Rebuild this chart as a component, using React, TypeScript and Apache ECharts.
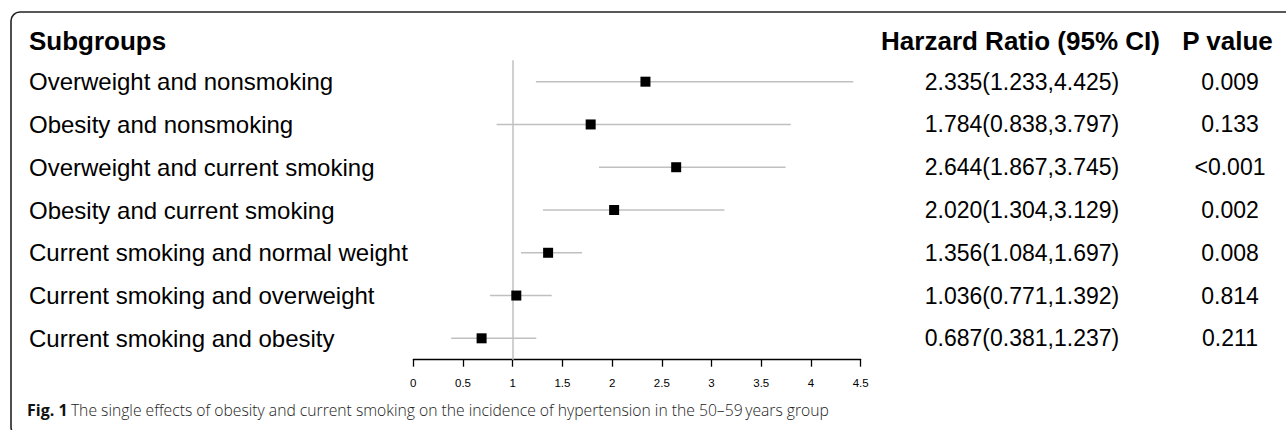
import React, { useEffect, useRef } from "react";
import * as echarts from "echarts";

const subgroups = [
  "Overweight and nonsmoking",
  "Obesity and nonsmoking",
  "Overweight and current smoking",
  "Obesity and current smoking",
  "Current smoking and normal weight",
  "Current smoking and overweight",
  "Current smoking and obesity",
];
const hr = [2.335, 1.784, 2.644, 2.02, 1.356, 1.036, 0.687];
const lower = [1.233, 0.838, 1.867, 1.304, 1.084, 0.771, 0.381];
const upper = [4.425, 3.797, 3.745, 3.129, 1.697, 1.392, 1.237];
const pValues = ["0.009", "0.133", "<0.001", "0.002", "0.008", "0.814", "0.211"];
const xTicks = [0, 0.5, 1, 1.5, 2, 2.5, 3, 3.5, 4, 4.5];

const hrText = hr.map(
  (v, i) => `${v.toFixed(3)}(${lower[i].toFixed(3)},${upper[i].toFixed(3)})`
);

const FONT = "Liberation Sans, Arial, sans-serif";

export default function App() {
  const ref = useRef<HTMLDivElement>(null);
  useEffect(() => {
    if (!ref.current) return;
    const chart = echarts.init(ref.current, null, { renderer: "svg" });
    const seriesData = hr.map((v, i) => [v, i, lower[i], upper[i]]);
    const option: any = {
      animation: false,
      backgroundColor: "#ffffff",
      grid: { left: 413.3, right: 425.3, top: 60.3, bottom: 70.3, containLabel: false },
      xAxis: {
        type: "value",
        min: 0,
        max: 4.5,
        interval: 0.5,
        splitLine: { show: false },
        axisLine: { show: true, lineStyle: { color: "#000", width: 1.3 } },
        axisTick: { show: true, length: 7, lineStyle: { color: "#000", width: 1.3 } },
        axisLabel: {
          show: true,
          fontSize: 11.5,
          color: "#000",
          fontFamily: FONT,
          margin: 17,
          showMinLabel: true,
          showMaxLabel: true,
          formatter: (v: number) => (xTicks.includes(v) ? String(v) : ""),
        },
      },
      yAxis: [
        {
          type: "category",
          data: subgroups,
          inverse: true,
          position: "left",
          axisLine: { show: false },
          axisTick: { show: false },
          splitLine: { show: false },
          axisLabel: {
            align: "left",
            margin: 384.3,
            fontSize: 24,
            color: "#000",
            fontFamily: FONT,
          },
        },
        {
          type: "category",
          data: hrText,
          inverse: true,
          position: "right",
          axisLine: { show: false },
          axisTick: { show: false },
          splitLine: { show: false },
          axisLabel: {
            align: "center",
            margin: 161.3,
            fontSize: 23,
            color: "#000",
            fontFamily: FONT,
          },
        },
        {
          type: "category",
          data: pValues,
          inverse: true,
          position: "right",
          axisLine: { show: false },
          axisTick: { show: false },
          splitLine: { show: false },
          axisLabel: {
            align: "center",
            margin: 369.3,
            fontSize: 23,
            color: "#000",
            fontFamily: FONT,
          },
        },
      ],
      series: [
        {
          type: "scatter",
          data: [],
          z: 1,
          silent: true,
          markLine: {
            silent: true,
            z: 1,
            symbol: ["none", "none"],
            label: { show: false },
            lineStyle: { color: "#c0c0c0", width: 1.5, type: "solid" },
            data: [{ xAxis: 1 }],
          },
        },
        {
          type: "custom",
          z: 10,
          xAxisIndex: 0,
          yAxisIndex: 0,
          data: seriesData,
          encode: { x: [0, 2, 3], y: 1 },
          renderItem: (params: any, api: any) => {
            const idx = api.value(1);
            const p = api.coord([api.value(0), idx]);
            const a = api.coord([api.value(2), idx]);
            const b = api.coord([api.value(3), idx]);
            const s = 10;
            return {
              type: "group",
              children: [
                {
                  type: "line",
                  shape: { x1: a[0], y1: a[1], x2: b[0], y2: b[1] },
                  style: { stroke: "#c0c0c0", lineWidth: 1.5 },
                },
                {
                  type: "rect",
                  shape: { x: p[0] - s / 2, y: p[1] - s / 2, width: s, height: s },
                  style: { fill: "#000" },
                },
              ],
            };
          },
        },
      ],
      graphic: [
        {
          type: "rect",
          shape: { x: 11, y: 12, width: 1320, height: 424, r: 9 },
          style: { fill: "none", stroke: "#222", lineWidth: 1.6 },
          z: -1,
        },
        {
          type: "text",
          x: 29,
          y: 41,
          style: {
            text: "Subgroups",
            font: `bold 26px ${FONT}`,
            fill: "#000",
            textAlign: "left",
            textVerticalAlign: "middle",
          },
        },
        {
          type: "text",
          x: 1020.5,
          y: 41,
          style: {
            text: "Harzard Ratio (95% CI)",
            font: `bold 26px ${FONT}`,
            fill: "#000",
            textAlign: "center",
            textVerticalAlign: "middle",
          },
        },
        {
          type: "text",
          x: 1227.5,
          y: 41,
          style: {
            text: "P value",
            font: `bold 26px ${FONT}`,
            fill: "#000",
            textAlign: "center",
            textVerticalAlign: "middle",
          },
        },
        {
          type: "text",
          x: 27,
          y: 410,
          style: {
            text: "{b|Fig. 1} {n|The single effects of obesity and current smoking on the incidence of hypertension in the 50–59\u2009years group}",
            textAlign: "left",
            textVerticalAlign: "middle",
            rich: {
              b: { fontFamily: "Open Sans", fontWeight: "bold", fontSize: 16, fill: "#111" },
              n: { fontFamily: "Open Sans", fontWeight: 300, fontSize: 15.7, fill: "#222" },
            },
          },
        },
      ],
    };
    chart.setOption(option);
    return () => chart.dispose();
  }, []);
  return (
    <div
      ref={ref}
      style={{ position: "fixed", left: 0, top: 0, width: 1286, height: 430 }}
    />
  );
}
